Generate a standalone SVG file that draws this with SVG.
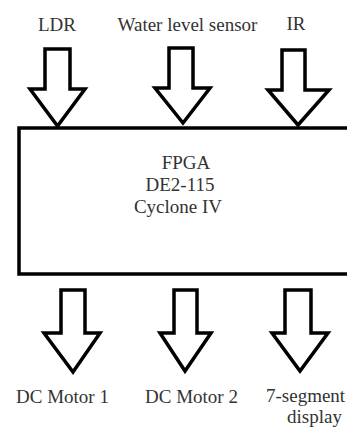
<svg xmlns="http://www.w3.org/2000/svg" width="347" height="429" viewBox="0 0 347 429">
<style>
.lbl{font-family:"Liberation Serif","Times New Roman",serif;font-size:19px;fill:#333;}
.arrow{fill:#fff;stroke:#000;stroke-width:3.5;stroke-linejoin:miter;}
.box{fill:#fff;stroke:#000;stroke-width:3.5;}
</style>
<rect width="347" height="429" fill="#fff"/>
<g id="ldr"><text class="lbl" x="57" y="31" text-anchor="middle">LDR</text></g>
<g id="water"><text class="lbl" x="187.5" y="31" text-anchor="middle">Water level sensor</text></g>
<g id="ir"><text class="lbl" x="296" y="30" text-anchor="middle">IR</text></g>
<g id="fpga">
<rect class="box" x="19" y="128" width="340" height="146"/>
<text class="lbl" x="186" y="169" text-anchor="middle">FPGA</text>
<text class="lbl" x="180" y="191" text-anchor="middle">DE2-115</text>
<text class="lbl" x="178" y="213" text-anchor="middle">Cyclone IV</text>
</g>
<g id="motor1"><text class="lbl" x="62.5" y="403" text-anchor="middle">DC Motor 1</text></g>
<g id="motor2"><text class="lbl" x="191.5" y="403" text-anchor="middle">DC Motor 2</text></g>
<g id="display"><text class="lbl" x="266" y="402" font-size="18.5">7-segment</text><text class="lbl" x="287" y="423">display</text></g>
<g id="connectors">
<path class="arrow" d="M45,49 H70 V89 H85 L57.5,126 L30,89 H45 Z"/>
<path class="arrow" d="M169,48 H193 V88 H210 L183,123 L155,88 H169 Z"/>
<path class="arrow" d="M282,50 H305 V90 H329 L298,125 L268,90 H282 Z"/>
<path class="arrow" d="M61,290 H85 V333 H100 L73,372 L44,333 H61 Z"/>
<path class="arrow" d="M174,290 H197 V333 H211 L185,371 L160,333 H174 Z"/>
<path class="arrow" d="M285,290 H311 V333 H328 L300,371 L272,333 H285 Z"/>
</g>
</svg>
